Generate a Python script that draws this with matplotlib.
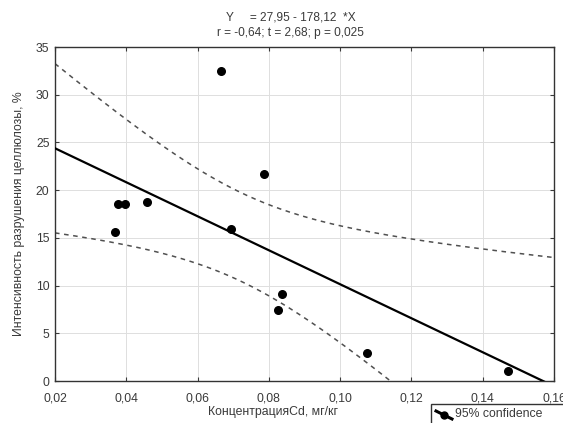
import numpy as np
import matplotlib
matplotlib.use("Agg")
import matplotlib.pyplot as plt
from matplotlib.lines import Line2D
from matplotlib.patches import Rectangle
from matplotlib.ticker import FuncFormatter

plt.rcParams['font.family'] = ['Liberation Sans', 'DejaVu Sans']

# Data
conc = [0.0368, 0.0376, 0.0396, 0.0457, 0.0667, 0.0695, 0.0785, 0.0827, 0.0838, 0.1075, 0.1470]
intensity = [15.6, 18.55, 18.55, 18.8, 32.5, 15.9, 21.7, 7.4, 9.1, 2.9, 1.0]
intercept = 27.95
slope = -178.12
x_ticks = [0.02, 0.04, 0.06, 0.08, 0.10, 0.12, 0.14, 0.16]
y_ticks = [0, 5, 10, 15, 20, 25, 30, 35]
title_lines = ["Y     = 27,95 - 178,12  *X", "r = -0,64; t = 2,68; p = 0,025"]
x_label = "КонцентрацияCd, мг/кг"
y_label = "Интенсивность разрушения целлюлозы, %"
legend_label = "95% confidence"

TXT = '#3a3a3a'

x = np.array(conc)
y = np.array(intensity)
n = len(x)
xs = np.linspace(0.02, 0.16, 300)
yfit = intercept + slope * xs
resid = y - (intercept + slope * x)
s = np.sqrt(np.sum(resid ** 2) / (n - 2))
tcrit = 2.15
se = s * np.sqrt(1.0 / n + (xs - x.mean()) ** 2 / np.sum((x - x.mean()) ** 2))
upper = yfit + tcrit * se
lower = yfit - tcrit * se

fig = plt.figure(figsize=(5.63, 4.23), dpi=100)
ax = fig.add_axes([55 / 563, 1 - 381 / 423, (554 - 55) / 563, (381 - 47) / 423])

ax.plot(xs, yfit, color='black', lw=1.6, zorder=3)
ax.plot(xs, upper, color='#505050', lw=1.1, ls=(0, (3, 3)), zorder=2)
ax.plot(xs, lower, color='#505050', lw=1.1, ls=(0, (3, 3)), zorder=2)
ax.scatter(x, y, s=30, color='black', zorder=4)

ax.set_xlim(0.02, 0.16)
ax.set_ylim(0, 35)
ax.set_xticks(x_ticks)
ax.set_yticks(y_ticks)
ax.xaxis.set_major_formatter(FuncFormatter(lambda v, p: f"{v:.2f}".replace('.', ',')))
ax.grid(True, color='#dedede', lw=0.7, ls='-')
ax.tick_params(direction='in', labelsize=8.8, colors=TXT, top=True, right=True, length=3, pad=4)
ax.tick_params(axis='x', pad=8)
for sp in ax.spines.values():
    sp.set_color('#333333')
    sp.set_linewidth(1.0)

ax.set_xlabel(x_label, fontsize=8.8, color=TXT)
ax.xaxis.set_label_coords((273 - 55) / (554 - 55), -(412 - 381) / (381 - 47), transform=ax.transAxes)
ax.xaxis.label.set_va('center')
ax.set_ylabel(y_label, fontsize=8.8, color=TXT)
ax.yaxis.set_label_coords(-(55 - 19) / (554 - 55), 0.5, transform=ax.transAxes)
ax.yaxis.label.set_va('center')

fig.text(291 / 563, 1 - 17 / 423, title_lines[0], ha='center', va='center', fontsize=8.6, color=TXT)
fig.text(290 / 563, 1 - 33 / 423, title_lines[1], ha='center', va='center', fontsize=8.6, color=TXT)

# Legend box (partly outside the figure, as in the source)
fig.patches.append(Rectangle((431 / 563, -0.05), 0.3, 1 - 404 / 423 + 0.05, transform=fig.transFigure,
                             facecolor='white', edgecolor='#333333', lw=1.0))
fig.lines.append(Line2D([436 / 563, 452 / 563], [1 - 411 / 423, 1 - 419 / 423], transform=fig.transFigure,
                        color='black', lw=2.2))
fig.lines.append(Line2D([444 / 563], [1 - 415 / 423], transform=fig.transFigure,
                        color='black', marker='o', markersize=5))
fig.text(455 / 563, 1 - 414 / 423, legend_label, ha='left', va='center', fontsize=8.8, color=TXT)

fig.savefig("out.png", dpi=100)
